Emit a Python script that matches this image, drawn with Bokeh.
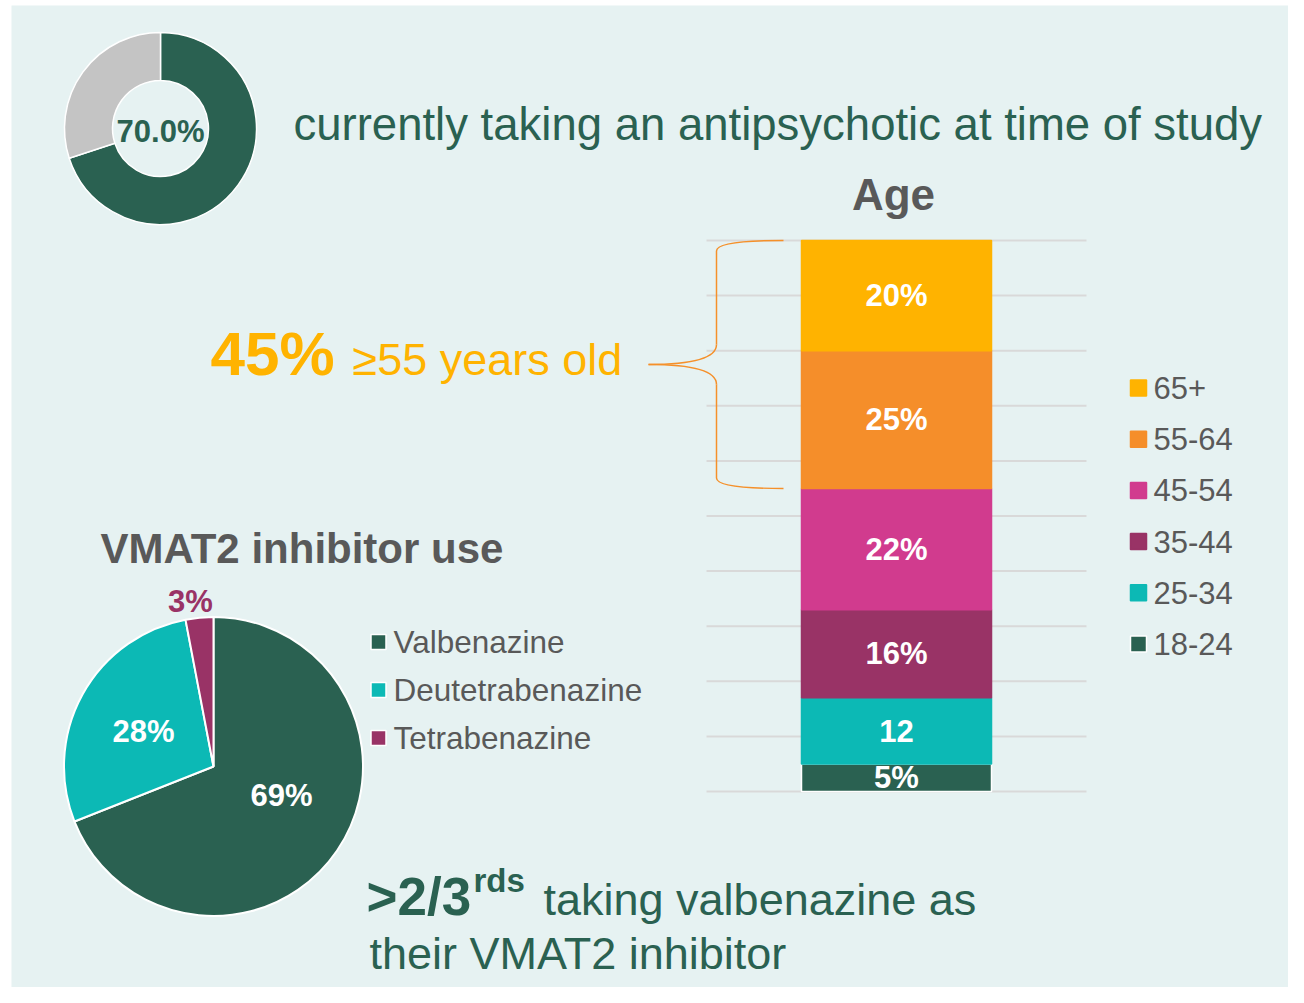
import math
from bokeh.plotting import figure
from bokeh.models import Range1d, ColumnDataSource
from bokeh.embed import file_html
from bokeh.resources import INLINE
from bokeh.core.properties import value

# ---------------- data ----------------
antipsychotic_labels = ["Taking an antipsychotic", "Not taking"]
antipsychotic_pct = [70.0, 30.0]

age_groups = ["18-24", "25-34", "35-44", "45-54", "55-64", "65+"]
age_pct = [5, 12, 16, 22, 25, 20]
age_bar_labels = ["5%", "12", "16%", "22%", "25%", "20%"]
age_gridline_ticks = [0, 10, 20, 30, 40, 50, 60, 70, 80, 90, 100]
older_groups = ["55-64", "65+"]

vmat2_drugs = ["Valbenazine", "Deutetrabenazine", "Tetrabenazine"]
vmat2_pct = [69, 28, 3]

# ---------------- styles ----------------
GREEN = "#2A6151"
RING_GRAY = "#C4C4C4"
TEXT_GRAY = "#595959"
AMBER = "#FFB300"
ORANGE = "#F58E2A"
PINK = "#D13B8E"
PLUM = "#993366"
TEAL = "#0CB9B5"
BG = "#E6F2F2"
GRID = "#D9D9D9"
BRACE = "#F5902A"
FONT = value("Liberation Sans")

age_colors = [GREEN, TEAL, PLUM, PINK, ORANGE, AMBER]
vmat2_colors = [GREEN, TEAL, PLUM]

# ---------------- layout ----------------
W, H = 1288, 987


def Y(py):
    """picture pixel y -> data y of the canvas"""
    return H - py


BAR_ZERO_PY = 791
PX_PER_PCT = 5.51
BAR_X = 896
BAR_W = 190

p = figure(width=W, height=H, x_range=Range1d(0, W), y_range=Range1d(0, H),
           output_backend="svg", toolbar_location=None, min_border=0,
           x_axis_location=None, y_axis_location=None,
           background_fill_color="white", border_fill_color="white", outline_line_color=None)
p.grid.visible = False
base_y = Y(BAR_ZERO_PY)
p.extra_y_ranges = {"pct": Range1d(start=(0 - base_y) / PX_PER_PCT, end=(H - base_y) / PX_PER_PCT)}

# slide panel
p.quad(left=[11], right=[W], top=[Y(5)], bottom=[0], fill_color=BG, line_color=None)


def wedge_angles(vals):
    tot = float(sum(vals))
    starts, ends, c = [], [], 0.0
    for v in vals:
        starts.append(math.pi / 2 - 2 * math.pi * c / tot)
        c += v
        ends.append(math.pi / 2 - 2 * math.pi * c / tot)
    return starts, ends


def txt(x, y, s, size, color, bold=False, align="left", **kw):
    p.text(x=[x], y=[y], text=[s], text_font=FONT, text_font_size=size,
           text_font_style="bold" if bold else "normal", text_color=color,
           text_align=align, text_baseline="middle", **kw)


# ---------------- donut (top-left) ----------------
ds, de = wedge_angles(antipsychotic_pct)
p.annular_wedge(x=160, y=Y(128), inner_radius=48, outer_radius=96,
                start_angle=ds, end_angle=de, direction="clock",
                fill_color=[GREEN, RING_GRAY], line_color="white", line_width=1.5)
txt(160, Y(131), f"{antipsychotic_pct[0]:.1f}%", "31px", GREEN, bold=True, align="center")
txt(293, Y(124), "currently taking an antipsychotic at time of study", "45.5px", GREEN)

# ---------------- age stacked bar ----------------
p.segment(x0=706, x1=1086, y0=age_gridline_ticks, y1=age_gridline_ticks,
          y_range_name="pct", line_color=GRID, line_width=2)

bottoms, tops, c = [], [], 0
for v in age_pct:
    bottoms.append(c)
    c += v
    tops.append(c)
total = c
mids = [(b + t) / 2 for b, t in zip(bottoms, tops)]
bar_src = ColumnDataSource(dict(
    group=age_groups, bottom=bottoms, top=tops, mid=mids, label=age_bar_labels,
    color=age_colors,
    line=["white"] + age_colors[1:],
))
p.vbar(x=BAR_X, width=BAR_W, bottom="bottom", top="top", source=bar_src,
       fill_color="color", line_color="line", line_width=1.5, y_range_name="pct")
p.text(x=BAR_X, y="mid", text="label", source=bar_src, y_range_name="pct",
       text_font=FONT, text_font_size="31px", text_font_style="bold",
       text_color="white", text_align="center", text_baseline="middle")

txt(893, Y(194), "Age", "44px", TEXT_GRAY, bold=True, align="center")

# legend (top = 65+)
leg_y = [Y(387.5 + 51.2 * i) for i in range(len(age_groups))]
leg_src = ColumnDataSource(dict(
    y=leg_y, name=age_groups[::-1], color=age_colors[::-1],
    line=age_colors[::-1][:-1] + ["white"],
))
p.rect(x=1138, y="y", width=16, height=16, source=leg_src,
       fill_color="color", line_color="line", line_width=1.5)
p.text(x=1153, y="y", text="name", source=leg_src, text_font=FONT,
       text_font_size="31px", text_color=TEXT_GRAY, text_align="left",
       text_baseline="middle")

# brace spanning the >=55 groups
older_share = sum(v for g, v in zip(age_groups, age_pct) if g in older_groups)
b_top = total
b_bot = total - older_share
b_mid = (b_top + b_bot) / 2
r = 1.9
p.quadratic(x0=[783, 716, 648, 716], y0=[b_top, b_mid + 2 * r / 1.05, b_mid, b_bot + r],
            x1=[716, 648, 716, 783], y1=[b_top - r, b_mid, b_mid - 2 * r / 1.05, b_bot],
            cx=[716, 716, 716, 716], cy=[b_top, b_mid, b_mid, b_bot],
            y_range_name="pct", line_color=BRACE, line_width=1.5)
p.segment(x0=[716, 716], x1=[716, 716],
          y0=[b_top - r, b_mid - 2 * r / 1.05], y1=[b_mid + 2 * r / 1.05, b_bot + r],
          y_range_name="pct", line_color=BRACE, line_width=1.5)

txt(210, Y(353), f"{older_share}%", "62px", AMBER, bold=True)
txt(352, Y(359), "\u226555 years old", "45px", AMBER)

# ---------------- VMAT2 pie ----------------
txt(100, Y(548), "VMAT2 inhibitor use", "42px", TEXT_GRAY, bold=True)
ps, pe = wedge_angles(vmat2_pct)
p.wedge(x=213, y=Y(766), radius=149.5, start_angle=ps, end_angle=pe,
        direction="clock", fill_color=vmat2_colors, line_color="white", line_width=2)

pie_label_pos = [(281, 795), (143, 731), (190, 601)]
pie_label_colors = ["white", "white", PLUM]
for (lx, ly), v, col in zip(pie_label_pos, vmat2_pct, pie_label_colors):
    txt(lx, Y(ly), f"{v}%", "31px", col, bold=True, align="center")

pl_y = [Y(641.5 + 48 * i) for i in range(len(vmat2_drugs))]
pleg = ColumnDataSource(dict(y=pl_y, name=vmat2_drugs, color=vmat2_colors))
p.rect(x=378, y="y", width=15, height=15, source=pleg, fill_color="color",
       line_color="white", line_width=1.5)
p.text(x=393, y="y", text="name", source=pleg, text_font=FONT, text_font_size="31.5px",
       text_color=TEXT_GRAY, text_align="left", text_baseline="middle")

# ---------------- bottom statement ----------------
txt(366, Y(896), ">2/3", "53px", GREEN, bold=True)
txt(473, Y(880), "rds", "33px", GREEN, bold=True)
txt(543, Y(899), "taking valbenazine as", "45px", GREEN)
txt(369, Y(953), "their VMAT2 inhibitor", "45px", GREEN)

open("out.html", "w").write(file_html(p, INLINE))
